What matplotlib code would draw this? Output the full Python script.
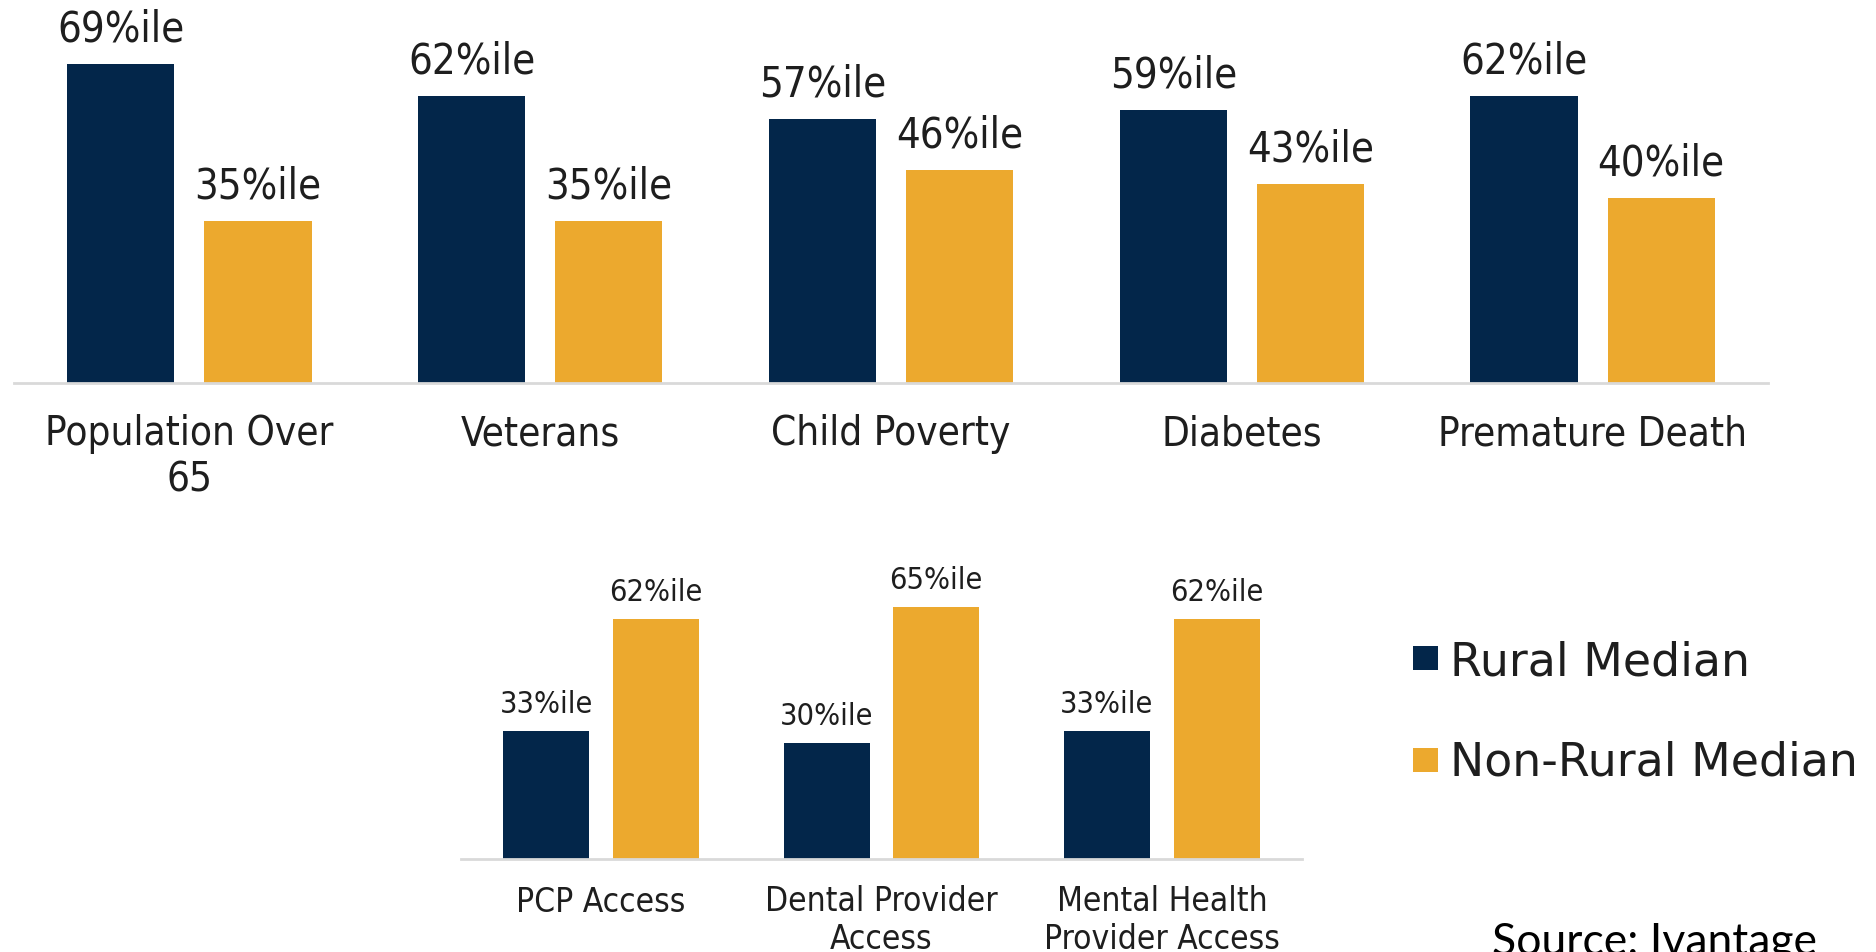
import matplotlib
matplotlib.use("Agg")
import matplotlib.pyplot as plt
from matplotlib.patches import Rectangle
import numpy as np

# Data
top_categories = ["Population Over\n65", "Veterans", "Child Poverty", "Diabetes", "Premature Death"]
top_rural = [69, 62, 57, 59, 62]
top_nonrural = [35, 35, 46, 43, 40]

bottom_categories = ["PCP Access", "Dental Provider\nAccess", "Mental Health\nProvider Access"]
bottom_rural = [33, 30, 33]
bottom_nonrural = [62, 65, 62]

series_names = ["Rural Median", "Non-Rural Median"]

# Style
navy = "#03264A"
gold = "#ECA92E"
txt = "#1E1E1E"
axis_grey = "#D9D9D9"
W, H = 1876, 952
bar_w = 0.306
shift = 0.1955

fig = plt.figure(figsize=(W / 100, H / 100), dpi=100)


def rect(x0, x1, base, px_per_unit, ymax=80):
    # pixel box -> figure fraction
    h = ymax * px_per_unit
    return [x0 / W, 1 - base / H, (x1 - x0) / W, h / H]


def draw_group(ax, cats, rural, nonrural, val_size, cat_size, val_off, cat_off, line_gap):
    x = np.arange(len(cats))
    b1 = ax.bar(x - shift, rural, bar_w, color=navy)
    b2 = ax.bar(x + shift, nonrural, bar_w, color=gold)
    for bars, vals in ((b1, rural), (b2, nonrural)):
        for b, v in zip(bars, vals):
            ax.annotate(f"{v}%ile", (b.get_x() + b.get_width() / 2, v),
                        xytext=(0, val_off), textcoords="offset points",
                        ha="center", va="baseline", fontsize=val_size,
                        color=txt, fontstretch="condensed", annotation_clip=False)
    for xi, c in zip(x, cats):
        # baseline alignment follows the last line, so push wrapped labels down
        off = cat_off + line_gap * c.count("\n")
        ax.annotate(c, (xi, 0), xytext=(0, -off), textcoords="offset points",
                    ha="center", va="baseline", multialignment="center",
                    fontsize=cat_size, color=txt, fontstretch="condensed",
                    annotation_clip=False)
    ax.set_xlim(-0.5, len(cats) - 0.5)
    ax.set_ylim(0, 80)
    for s in ("top", "right", "left"):
        ax.spines[s].set_visible(False)
    ax.spines["bottom"].set_color(axis_grey)
    ax.spines["bottom"].set_linewidth(2)
    ax.set_xticks([])
    ax.set_yticks([])
    ax.patch.set_alpha(0)


ax_top = fig.add_axes(rect(14, 1768, 383, 4.63))
draw_group(ax_top, top_categories, top_rural, top_nonrural, 30, 29, 16, 45, 33)

ax_bot = fig.add_axes(rect(461, 1302, 859, 3.87))
draw_group(ax_bot, bottom_categories, bottom_rural, bottom_nonrural, 22, 24, 13, 38, 27)

# Legend
for name, col, sq_top, base in ((series_names[0], navy, 646, 676),
                                (series_names[1], gold, 748, 776)):
    fig.add_artist(Rectangle((1413 / W, 1 - (sq_top + 24) / H), 25 / W, 24 / H,
                             transform=fig.transFigure, color=col, lw=0))
    fig.text(1450 / W, 1 - base / H, name, fontsize=33, color=txt, va="baseline", ha="left")

fig.text(1492 / W, 1 - 922 / H, "Source: Ivantage", fontsize=32, family="Lato",
         color="black", va="top", ha="left")

fig.savefig("out.png", dpi=100, facecolor="white")
